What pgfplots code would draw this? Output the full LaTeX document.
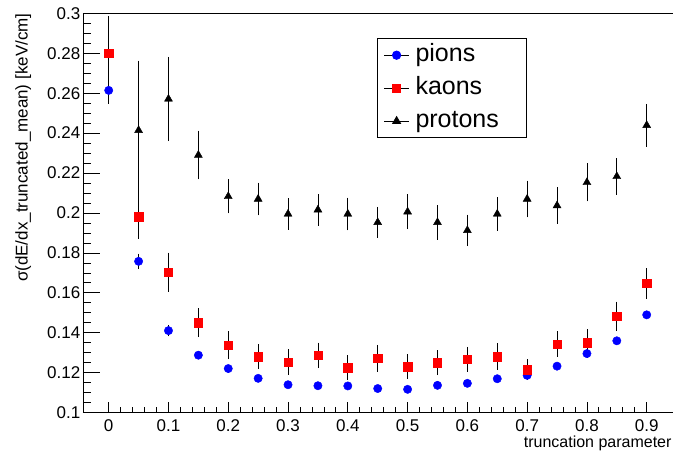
\documentclass[border=0pt]{standalone}
\usepackage{fontspec}
\setmainfont{Liberation Sans}
\usepackage{pgfplots}
\usepackage{pgfplotstable}
\pgfplotsset{compat=1.18}

\pgfplotstableread{
x y e
0 0.2614 0.0055
0.05 0.1758 0.0027
0.1 0.1411 0.0017
0.15 0.1288 0.0008
0.2 0.1221 0.0008
0.25 0.1172 0.0006
0.3 0.1140 0.0006
0.35 0.1135 0.0006
0.4 0.1134 0.0006
0.45 0.1121 0.0006
0.5 0.1117 0.0006
0.55 0.1137 0.0006
0.6 0.1147 0.0006
0.65 0.1170 0.0006
0.7 0.1187 0.0006
0.75 0.1233 0.0006
0.8 0.1296 0.0008
0.85 0.1360 0.0008
0.9 0.1490 0.0008
}\pions

\pgfplotstableread{
x y e
0 0.2800 0.0175
0.05 0.1982 0.0099
0.1 0.1703 0.0086
0.15 0.1450 0.0060
0.2 0.1338 0.0058
0.25 0.1281 0.0050
0.3 0.1254 0.0052
0.35 0.1287 0.0052
0.4 0.1226 0.0050
0.45 0.1272 0.0055
0.5 0.1231 0.0050
0.55 0.1250 0.0050
0.6 0.1268 0.0050
0.65 0.1281 0.0054
0.7 0.1216 0.0040
0.75 0.1344 0.0052
0.8 0.1351 0.0055
0.85 0.1482 0.0062
0.9 0.1647 0.0065
}\kaons

\pgfplotstableread{
x y e
0.05 0.2414 0.0337
0.1 0.2571 0.0199
0.15 0.2290 0.0110
0.2 0.2083 0.0073
0.25 0.2070 0.0070
0.3 0.1995 0.0067
0.35 0.2016 0.0067
0.4 0.1995 0.0070
0.45 0.1953 0.0065
0.5 0.2006 0.0075
0.55 0.1953 0.0075
0.6 0.1913 0.0067
0.65 0.1995 0.0071
0.7 0.2070 0.0080
0.75 0.2037 0.0079
0.8 0.2153 0.0083
0.85 0.2183 0.0079
0.9 0.2439 0.0095
}\protons

\begin{document}
\begin{tikzpicture}
\useasboundingbox (-83pt,-41.3pt) rectangle (590pt,412.7pt);
\begin{axis}[
  scale only axis,
  width=593pt, height=399.4pt,
  xmin=-0.043, xmax=0.949,
  ymin=0.1, ymax=0.3,
  xtick={0,0.1,0.2,0.3,0.4,0.5,0.6,0.7,0.8,0.9},
  ytick={0.1,0.12,0.14,0.16,0.18,0.2,0.22,0.24,0.26,0.28,0.3},
  minor x tick num=4,
  minor y tick num=3,
  tick align=inside,
  xtick pos=left, ytick pos=left,
  xtick style={/pgfplots/major tick length=11pt,/pgfplots/minor tick length=5.5pt},
  ytick style={/pgfplots/major tick length=16.7pt,/pgfplots/minor tick length=8.3pt},
  every tick/.style={black, line width=0.8pt},
  axis line style={black, line width=0.8pt},
  scaled x ticks=false, scaled y ticks=false,
  /pgf/number format/assume math mode=true,
  xticklabel style={/pgf/number format/fixed, /pgf/number format/precision=2, font=\fontsize{17}{20}\selectfont, inner sep=0pt, anchor=north, yshift=-7pt},
  yticklabel style={/pgf/number format/fixed, /pgf/number format/precision=2, font=\fontsize{17}{20}\selectfont, inner sep=0pt, anchor=east, xshift=-2.5pt},
  xlabel={truncation parameter},
  ylabel={σ(dE/dx\_truncated\_mean) [keV/cm]},
  every axis x label/.style={at={(axis description cs:0.9927,0)}, anchor=east, yshift=-31pt, inner sep=0pt, font=\fontsize{16}{19}\selectfont},
  every axis y label/.style={at={(axis description cs:-0.1007,1)}, rotate=90, anchor=east, inner sep=0pt, font=\fontsize{17}{20}\selectfont},
  legend style={at={(axis description cs:0.4963,0.9374)}, anchor=north west, draw=black, line width=0.8pt,
    inner xsep=6pt, inner ysep=5pt, row sep=10pt, column sep=6pt,
    nodes={inner sep=0pt, text height=18pt, text depth=5pt},
    font=\fontsize{25}{30}\selectfont},
  legend cell align=left,
  legend image code/.code={
    \draw[black, line width=0.8pt] (0pt,0pt) -- (25pt,0pt);
    \draw plot coordinates {(12.5pt,0pt)};
  },
  error bars/error bar style={black, line width=0.8pt},
  error bars/error mark options={black, mark size=2.4pt, line width=0.8pt},
]
\addplot[only marks, mark=*, mark size=4.2pt, blue, mark options={draw=blue, fill=blue},
  error bars/.cd, y dir=both, y explicit]
  table[x=x, y=y, y error=e] {\pions};
\addlegendentry{\makebox[105pt][l]{pions}}
\addplot[only marks, mark=square*, mark size=4.2pt, red, mark options={draw=red, fill=red},
  error bars/.cd, y dir=both, y explicit]
  table[x=x, y=y, y error=e] {\kaons};
\addlegendentry{\makebox[105pt][l]{kaons}}
\addplot[only marks, mark=triangle*, mark size=4.6pt, black, mark options={draw=black, fill=black},
  error bars/.cd, y dir=both, y explicit]
  table[x=x, y=y, y error=e] {\protons};
\addlegendentry{\makebox[105pt][l]{protons}}
\end{axis}
\end{tikzpicture}
\end{document}
